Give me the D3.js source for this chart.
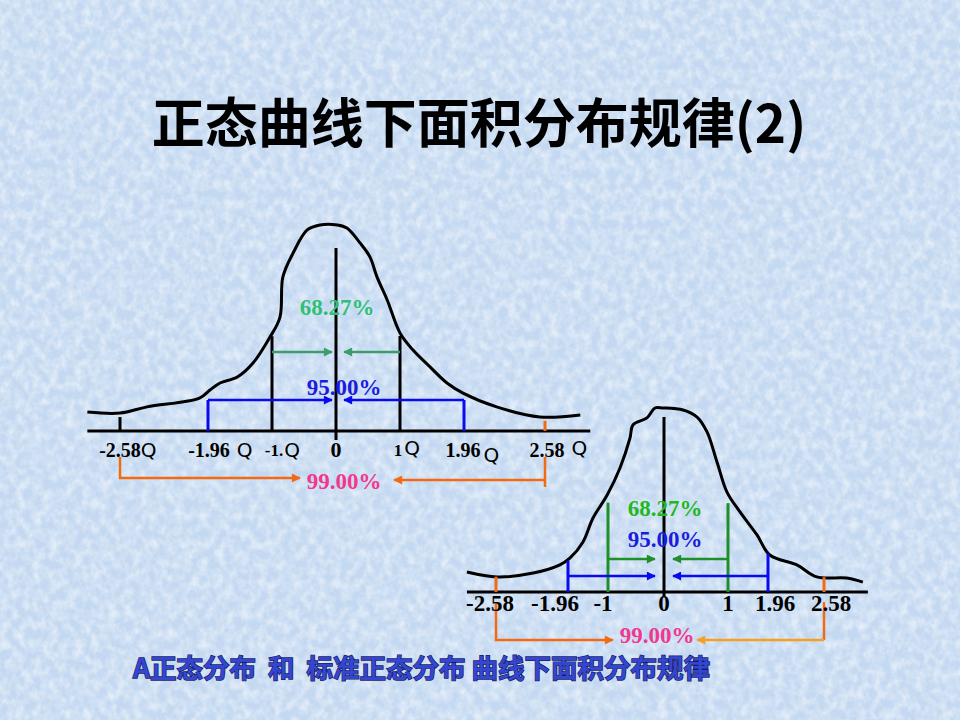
<!DOCTYPE html>
<html>
<head>
<meta charset="utf-8">
<script src="https://cdn.jsdelivr.net/npm/d3@7"></script>
<style>
html, body { margin: 0; padding: 0; background: #c6daef; }
svg { display: block; }
</style>
</head>
<body>
<svg id="viz" width="960" height="720"></svg>
<script>
// ---- values ----
var title = "正态曲线下面积分布规律(2)"
var caption = "A正态分布  和  标准正态分布 曲线下面积分布规律"

var ticks = [-2.58, -1.96, -1, 0, 1, 1.96, 2.58]
var intervals = [1, 1.96, 2.58]
var percents = ["68.27%", "95.00%", "99.00%"]

var leftLabels = ["-2.58", "-1.96", "-1.", "0", "1", "1.96", "2.58"]
var rightLabels = ["-2.58", "-1.96", "-1", "0", "1", "1.96", "2.58"]
var sigmaMark = "Q"

// hand drawn curves as [z, height relative to peak]
var leftCurve = [
  [-2.81, 0.092], [-2.58, 0.087], [-2.39, 0.117], [-2.02, 0.160], [-1.93, 0.199],
  [-1.78, 0.233], [-1.52, 0.262], [-1.285, 0.330], [-1.03, 0.456], [-0.875, 0.553],
  [-0.83, 0.748], [-0.67, 0.864], [-0.45, 0.976], [-0.25, 1.0], [0.02, 1.0],
  [0.17, 0.985], [0.375, 0.913], [0.53, 0.845], [0.64, 0.748], [0.80, 0.636],
  [1.0, 0.476], [1.195, 0.393], [1.45, 0.311], [1.705, 0.233], [1.945, 0.184],
  [2.21, 0.117], [2.54, 0.068], [2.85, 0.078]
]
var rightCurve = [
  [-2.83, 0.109], [-2.57, 0.082], [-2.26, 0.103], [-2.03, 0.147], [-1.91, 0.185],
  [-1.60, 0.272], [-1.36, 0.402], [-1.02, 0.527], [-0.786, 0.674], [-0.607, 0.837],
  [-0.554, 0.908], [-0.304, 0.946], [-0.16, 1.0], [-0.018, 1.0], [0.297, 0.989],
  [0.516, 0.951], [0.672, 0.870], [0.828, 0.707], [0.984, 0.543], [1.288, 0.435],
  [1.696, 0.310], [1.98, 0.201], [2.28, 0.147], [2.50, 0.082], [2.83, 0.076],
  [3.01, 0.054]
]

// ---- layout ----
var width = 960, height = 720
var serif = "'Liberation Serif', 'Times New Roman', serif"
var cjk = "'Noto Sans CJK SC', sans-serif"

var svg = d3.select('svg#viz')
var defs = svg.append('defs')

// paper texture
var tex = defs.append('filter').attr('id', 'tex')
    .attr('x', 0).attr('y', 0).attr('width', '100%').attr('height', '100%')
tex.append('feTurbulence').attr('type', 'fractalNoise')
    .attr('baseFrequency', '0.12 0.1').attr('numOctaves', 4).attr('seed', 7)
tex.append('feColorMatrix').attr('type', 'matrix')
    .attr('values', '0 0 0 0 1  0 0 0 0 1  0 0 0 0 1  2.0 0 0 0 -0.7')

svg.append('rect').attr('width', width).attr('height', height).attr('fill', '#c4d9f1')
svg.append('rect').attr('width', width).attr('height', height)
    .attr('filter', 'url(#tex)').attr('opacity', 0.55)

function marker(id, color) {
  defs.append('marker').attr('id', id)
      .attr('viewBox', '0 0 10 10').attr('refX', 9).attr('refY', 5)
      .attr('markerUnits', 'userSpaceOnUse')
      .attr('markerWidth', 11).attr('markerHeight', 9)
      .attr('orient', 'auto')
    .append('path').attr('d', 'M0,0L10,5L0,10z').attr('fill', color)
}

function curveAt(curve, z) {
  for (var i = 1; i < curve.length; i++) {
    if (z <= curve[i][0]) {
      var a = curve[i - 1], b = curve[i]
      return a[1] + (b[1] - a[1]) * (z - a[0]) / (b[0] - a[0])
    }
  }
  return curve[curve.length - 1][1]
}

function drawPanel(p) {
  var x = d3.scaleLinear().domain(ticks).range(p.tickPx)
  var y = d3.scaleLinear().domain([0, 1]).range([p.axisY, p.axisY - p.peak])
  var g = svg.append('g')

  // base line
  g.append('line')
      .attr('x1', x(p.curve[0][0])).attr('x2', x(p.curve[p.curve.length - 1][0]) + p.axisPad)
      .attr('y1', p.axisY).attr('y2', p.axisY)
      .attr('stroke', '#000').attr('stroke-width', 3)

  // curve
  var line = d3.line()
      .x(d => x(d[0]))
      .y(d => y(d[1]))
      .curve(d3.curveCatmullRom.alpha(0.5))
  g.append('path').datum(p.curve)
      .attr('d', line)
      .attr('fill', 'none').attr('stroke', '#000')
      .attr('stroke-width', 3).attr('stroke-linejoin', 'round')

  // centre
  g.append('line')
      .attr('x1', x(0)).attr('x2', x(0))
      .attr('y1', p.axisY + p.centreBelow).attr('y2', p.axisY - p.centreLen)
      .attr('stroke', '#000').attr('stroke-width', 3)

  // verticals at +-z
  intervals.forEach((z, i) => {
    var st = p.verticals[i]
    ;[-z, z].forEach((v, j) => {
      var top = st.to == 'level' ? p.axisY - p.levels[i] : y(curveAt(p.curve, v)) + st.gap
      g.append('line')
          .attr('x1', x(v)).attr('x2', x(v))
          .attr('y1', p.axisY).attr('y2', top)
          .attr('stroke', st.colors[j]).attr('stroke-width', 3)
    })
  })

  // inward arrows for 68.27 and 95.00
  ;[0, 1].forEach(i => {
    var z = intervals[i], ly = p.axisY - p.levels[i]
    g.append('line')
        .attr('x1', x(-z)).attr('x2', x(0) - p.tipGap[0])
        .attr('y1', ly).attr('y2', ly)
        .attr('stroke', p.arrowColors[i]).attr('stroke-width', 2.5)
        .attr('marker-end', 'url(#' + p.id + 'a' + i + ')')
    g.append('line')
        .attr('x1', x(z)).attr('x2', x(0) + p.tipGap[1])
        .attr('y1', ly).attr('y2', ly)
        .attr('stroke', p.arrowColors[i]).attr('stroke-width', 2.5)
        .attr('marker-end', 'url(#' + p.id + 'a' + i + ')')
  })

  // 99.00 bracket
  var z3 = intervals[2], by = p.axisY + p.bracket.level, cx = x(0) + p.bracket.dx
  g.append('path')
      .attr('d', d3.line()([[x(-z3), p.axisY + p.bracket.from], [x(-z3), by], [cx - p.bracket.tips[0], by]]))
      .attr('fill', 'none').attr('stroke', p.bracket.colors[0]).attr('stroke-width', 2.5)
      .attr('marker-end', 'url(#' + p.id + 'b0)')
  g.append('line')
      .attr('x1', x(z3)).attr('x2', x(z3))
      .attr('y1', p.axisY + p.bracket.from).attr('y2', by + p.bracket.tail)
      .attr('stroke', p.bracket.colors[0]).attr('stroke-width', 2.5)
  g.append('line')
      .attr('x1', x(z3)).attr('x2', cx + p.bracket.tips[1])
      .attr('y1', by + p.bracket.rightDy).attr('y2', by + p.bracket.rightDy)
      .attr('stroke', p.bracket.colors[1]).attr('stroke-width', 2.5)
      .attr('marker-end', 'url(#' + p.id + 'b1)')

  // percent labels
  percents.forEach((t, i) => {
    g.append('text')
        .attr('x', i == 2 ? cx : x(0) + p.pctDx[i])
        .attr('y', i == 2 ? by + p.bracket.labelDy : p.axisY - p.pctUp[i])
        .attr('text-anchor', 'middle')
        .attr('font-family', serif).attr('font-weight', 'bold')
        .attr('font-size', p.pctSize)
        .attr('fill', p.pctColors[i])
        .text(t)
  })

  // tick labels
  p.labels.forEach((t, i) => {
    var small = t == "-1." || t == "1"
    var tx = g.append('text')
        .attr('x', x(ticks[i]) + p.labelDx[i])
        .attr('y', p.axisY + p.labelDy + (small && p.sigma ? -1 : 0))
        .attr('text-anchor', 'middle')
        .attr('font-family', serif).attr('font-weight', 'bold')
        .attr('font-size', small && p.sigma ? p.labelSize - 3 : (ticks[i] == 0 && p.sigma ? p.labelSize + 2 : p.labelSize))
        .attr('fill', '#000')
        .text(t)
    if (p.sigma && ticks[i] != 0) {
      var w = tx.node().getComputedTextLength()
      g.append('text')
          .attr('x', x(ticks[i]) + p.labelDx[i] + w / 2 + p.sigmaGap[i])
          .attr('y', p.axisY + p.labelDy + p.sigmaDy[i])
          .attr('font-family', "'DejaVu Sans', sans-serif")
          .attr('font-size', 20)
          .attr('fill', '#000')
          .text(sigmaMark)
    }
  })
}

marker('La0', '#3d9c6c')
marker('La1', '#0a0af0')
marker('Lb0', '#f26a12')
marker('Lb1', '#f26a12')
marker('Ra0', '#1f8f2a')
marker('Ra1', '#0a0af0')
marker('Rb0', '#f26a12')
marker('Rb1', '#f5a023')

drawPanel({
  id: 'L',
  curve: leftCurve,
  labels: leftLabels,
  sigma: true,
  tickPx: [120, 208, 272, 336, 400, 464, 545],
  axisY: 431, peak: 206, axisPad: 10,
  centreLen: 183, centreBelow: 9,
  verticals: [
    { to: 'curve', gap: 3, colors: ['#000', '#000'] },
    { to: 'level', gap: 0, colors: ['#0a0af0', '#0a0af0'] },
    { to: 'curve', gap: 4, colors: ['#000', '#f26a12'] }
  ],
  levels: [79, 31],
  tipGap: [4, 8],
  arrowColors: ['#3d9c6c', '#0a0af0'],
  bracket: { from: 26, level: 47, tail: 9, rightDy: 2, dx: 8, tips: [44, 50], labelDy: 11,
             colors: ['#f26a12', '#f26a12'] },
  pctUp: [116, 36], pctDx: [1, 8], pctSize: 23,
  pctColors: ['#2fbf76', '#1c1ce0', '#f0388f'],
  labelDy: 26, labelSize: 20,
  labelDx: [0, 1, 2, 0, -2, -1, 2],
  sigmaGap: [0, 7, 1, 0, 2, 3, 7],
  sigmaDy: [0, 0, 0, 0, -2, 5, -2]
})

drawPanel({
  id: 'R',
  curve: rightCurve,
  labels: rightLabels,
  sigma: false,
  tickPx: [496, 568, 608, 664, 728, 768, 824],
  axisY: 592, peak: 184, axisPad: 5,
  centreLen: 175, centreBelow: 5,
  verticals: [
    { to: 'curve', gap: 10, colors: ['#1f8f2a', '#1f8f2a'] },
    { to: 'curve', gap: 0, colors: ['#0a0af0', '#0a0af0'] },
    { to: 'curve', gap: 0, colors: ['#f26a12', '#f26a12'] }
  ],
  levels: [33, 16],
  tipGap: [9, 9],
  arrowColors: ['#1f8f2a', '#0a0af0'],
  bracket: { from: 10, level: 48, tail: 0, rightDy: 0, dx: -7, tips: [44, 40], labelDy: 3,
             colors: ['#f26a12', '#f5a023'] },
  pctUp: [76, 45], pctDx: [1, 1], pctSize: 23,
  pctColors: ['#1fb81f', '#1c1ce0', '#f0388f'],
  labelDy: 19, labelSize: 23,
  labelDx: [-6, -13, -5, 0, 0, 7, 7]
})

// title and caption
svg.append('text')
    .attr('x', width / 2 - 1).attr('y', 143)
    .attr('text-anchor', 'middle')
    .attr('font-family', cjk).attr('font-weight', 'bold')
    .attr('font-size', 53).attr('fill', '#000')
    .text(title)

svg.append('text')
    .attr('x', 133).attr('y', 678)
    .attr('font-family', cjk).attr('font-weight', 'bold')
    .attr('font-size', 26.5)
    .attr('fill', '#3246cf').attr('stroke', '#1a1a62').attr('stroke-width', 1.4)
    .attr('paint-order', 'stroke')
    .style('white-space', 'pre')
    .text(caption)
</script>
</body>
</html>
